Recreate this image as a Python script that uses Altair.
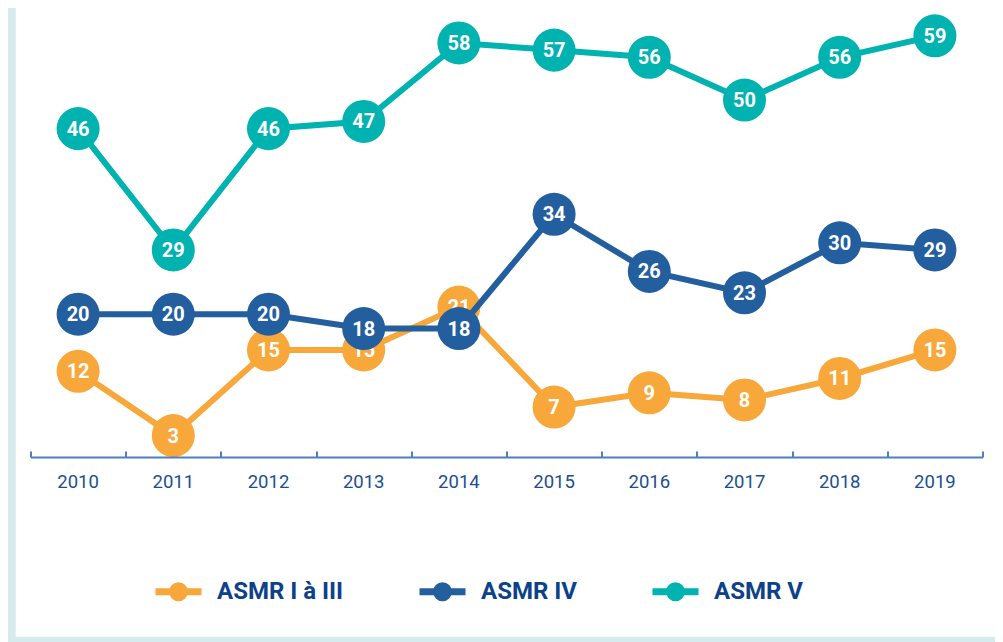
import altair as alt
import pandas as pd

years = ["2010", "2011", "2012", "2013", "2014", "2015", "2016", "2017", "2018", "2019"]
series_names = ["ASMR I à III", "ASMR IV", "ASMR V"]
asmr_1_3 = [12, 3, 15, 15, 21, 7, 9, 8, 11, 15]
asmr_4 = [20, 20, 20, 18, 18, 34, 26, 23, 30, 29]
asmr_5 = [46, 29, 46, 47, 58, 57, 56, 50, 56, 59]
colors = ["#f8a73a", "#235e9f", "#00b2b0"]

rows = []
for name, vals in zip(series_names, [asmr_1_3, asmr_4, asmr_5]):
    for yr, v in zip(years, vals):
        rows.append({"annee": yr, "serie": name, "valeur": v})
df = pd.DataFrame(rows)

W, H = 952, 449
x_scale = alt.Scale(type="band", domain=years, paddingInner=0, paddingOuter=0)
y_scale = alt.Scale(domain=[0, 62.9], nice=False, zero=True)
color_scale = alt.Scale(domain=series_names, range=colors)

axis_color = "#4d7fc1"
bottom_axis = alt.Axis(title=None, orient="bottom", ticks=False, domain=True,
                       domainColor=axis_color, domainWidth=2, labelFont="Roboto",
                       labelFontSize=18.5, labelColor="#1b4f8f", labelPadding=15.5,
                       labelAngle=0, zindex=1)
top_axis = alt.Axis(title=None, orient="top", offset=-H, labels=False, domain=False,
                    ticks=True, tickBand="extent", tickSize=6, tickWidth=2,
                    tickColor=axis_color, zindex=1)

# legend symbol: a stroked bar with a solid dot in the middle
legend_path = ("M-1,0L1,0"
               "M-0.261,0A0.261,0.261,0,1,1,0.261,0A0.261,0.261,0,1,1,-0.261,0"
               "M-0.087,0A0.087,0.087,0,1,1,0.087,0A0.087,0.087,0,1,1,-0.087,0")
legend = alt.Legend(orient="none", direction="horizontal", legendX=121.5, legendY=557,
                    title=None, symbolType=legend_path, symbolSize=2116,
                    symbolStrokeWidth=7, symbolOpacity=1, labelFont="Roboto",
                    labelFontSize=24, labelFontWeight="bold", labelColor="#0d4289",
                    labelOffset=12, columnPadding=61, padding=0, labelLimit=400,
                    zindex=1)

frame = alt.Chart(alt.Data(values=[{"k": 1}])).mark_rect(color="white").encode(
    x=alt.value(-14.8), x2=alt.value(975), y=alt.value(-8), y2=alt.value(628.7)
)

layers = [frame]
for i, name in enumerate(series_names):
    sub = alt.Chart(df).transform_filter(alt.datum.serie == name)
    xa = bottom_axis if i == 0 else None
    line = sub.mark_line(strokeWidth=6).encode(
        x=alt.X("annee:N", scale=x_scale, axis=xa, sort=years),
        y=alt.Y("valeur:Q", scale=y_scale, axis=None),
        color=alt.Color("serie:N", scale=color_scale, legend=legend),
    )
    xb = top_axis if i == 0 else None
    circ = sub.mark_circle(size=1850, opacity=1).encode(
        x=alt.X("annee:N", scale=x_scale, axis=xb, sort=years),
        y=alt.Y("valeur:Q", scale=y_scale, axis=None),
        color=alt.Color("serie:N", scale=color_scale, legend=legend),
    )
    txt = sub.mark_text(font="Roboto", fontSize=20, fontWeight="bold", color="white",
                        baseline="middle", align="center", dy=1).encode(
        x=alt.X("annee:N", scale=x_scale, axis=None, sort=years),
        y=alt.Y("valeur:Q", scale=y_scale, axis=None),
        text="valeur:Q",
    )
    layers += [line, circ, txt]

chart = alt.layer(*layers).resolve_axis(x="independent").properties(
    width=W, height=H,
    autosize=alt.AutoSizeParams(type="none"),
    padding={"left": 22.5, "top": 0, "right": 12.5, "bottom": 185},
    background="#d6ebee",
).configure_view(stroke="transparent")

chart.save("out.html", embed_options={"renderer": "svg", "actions": False})
